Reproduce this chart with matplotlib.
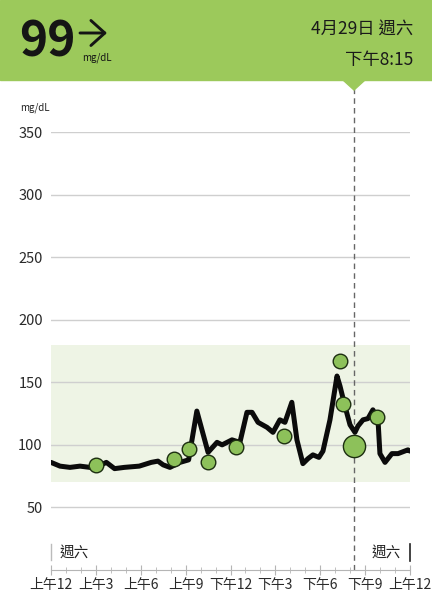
import matplotlib.pyplot as plt
from matplotlib.patches import Polygon, Rectangle

plt.rcParams['font.family'] = ['Noto Sans CJK TC', 'DejaVu Sans']

# glucose trace (hour of day, mg/dL)
trace_hours = [0.0, 0.6, 1.27, 1.94, 2.6, 3.0, 3.7, 4.25, 4.9, 5.9, 6.7, 7.15, 7.5,
               7.95, 8.62, 9.2, 9.75, 10.5, 11.1, 11.44, 12.1, 12.63, 13.1, 13.44,
               13.84, 14.44, 14.84, 15.3, 15.64, 16.1, 16.44, 16.84, 17.18, 17.51,
               17.91, 18.18, 18.65, 19.12, 19.32, 19.65, 19.99, 20.32, 20.52, 20.86,
               21.19, 21.52, 21.86, 21.99, 22.33, 22.79, 23.2, 23.86, 24.0]
trace_values = [86, 83, 82, 83, 82, 82, 86, 81, 82, 83, 86, 87, 84,
                82, 86, 88, 127, 94, 102, 100, 104, 102, 126, 126,
                118, 114, 110, 120, 118, 134, 104, 85, 89, 92,
                90, 95, 120, 155, 147, 131, 116, 110, 115, 120,
                121, 128, 120, 93, 86, 93, 93, 96, 95]

# fingerstick readings
point_hours = [3.0, 8.2, 9.2, 10.5, 12.4, 15.6, 19.3, 19.5, 21.8]
point_values = [84, 89, 97, 86, 98, 107, 167, 133, 122]

current_hour = 20.25
current_value = 99

target_low, target_high = 70, 180
y_ticks = [50, 100, 150, 200, 250, 300, 350]
x_labels = ['上午12', '上午3', '上午6', '上午9', '下午12', '下午3', '下午6', '下午9', '上午12']

W, H = 432, 614
fig = plt.figure(figsize=(W / 100, H / 100), dpi=100)

# header bar
header_col = '#9cc95b'
fig.patches.append(Rectangle((0, 1 - 80 / H), 1, 80 / H, transform=fig.transFigure,
                             color=header_col, zorder=0))
tx = 354 / W
fig.patches.append(Polygon([(tx - 11 / W, 1 - 80 / H), (tx + 11 / W, 1 - 80 / H),
                            (tx, 1 - 90 / H)], closed=True, transform=fig.transFigure,
                           color=header_col, zorder=0))

fig.text(19 / W, 1 - 42 / H, '99', fontsize=34.5, fontweight='bold', color='#151515',
         va='center', ha='left')
# trend arrow
fig.add_artist(plt.Annotation('', xy=(107 / W, 1 - 33 / H), xytext=(80 / W, 1 - 33 / H),
                              xycoords='figure fraction', textcoords='figure fraction',
                              arrowprops=dict(arrowstyle='->,head_length=0.5,head_width=0.45',
                                              lw=2.1, color='#151515', mutation_scale=20,
                                              shrinkA=0, shrinkB=0)))
fig.text(82 / W, 1 - 58 / H, 'mg/dL', fontsize=7, color='#151515', va='center', ha='left')
fig.text(413 / W, 1 - 30 / H, '4月29日 週六', fontsize=12.5, color='#1a1a1a', va='center', ha='right')
fig.text(413 / W, 1 - 60 / H, '下午8:15', fontsize=12.5, color='#1a1a1a', va='center', ha='right')

fig.text(20 / W, 1 - 108 / H, 'mg/dL', fontsize=7, color='#222222', va='center', ha='left')

ax = fig.add_axes([51 / W, 1 - 570 / H, 359 / W, 438 / H])
ax.set_xlim(0, 24)
ax.set_ylim(0, 350)

ax.axhspan(target_low, target_high, color='#eef4e5', zorder=0, lw=0)
ax.set_yticks(y_ticks)
ax.grid(axis='y', color='#cfcfcf', lw=1)
ax.set_axisbelow(True)

ax.plot(trace_hours, trace_values, color='#0b0b0b', lw=3.6, solid_joinstyle='round',
        solid_capstyle='round', zorder=3)
ax.plot(point_hours, point_values, 'o', ms=10.5, mfc='#8dc15a', mec='#1c2e10', mew=1, zorder=4)
ax.plot([current_hour], [current_value], 'o', ms=16, mfc='#8dc15a', mec='#1c2e10', mew=1, zorder=5)

ax.axvline(current_hour, ymin=0, ymax=(570 - 88) / 438, color='#666666', lw=1,
           dashes=(4, 3), clip_on=False, zorder=2)

for s in ['top', 'right', 'left']:
    ax.spines[s].set_visible(False)
ax.spines['bottom'].set_color('#b5b5b5')

ax.set_xticks(range(0, 25, 3))
ax.set_xticks(range(0, 25), minor=True)
ax.set_xticklabels(x_labels)
ax.tick_params(axis='x', which='major', direction='inout', length=7, color='#b5b5b5',
               labelsize=10, labelcolor='#2a2a2a', pad=2)
ax.tick_params(axis='x', which='minor', direction='inout', length=4, color='#b5b5b5')
ax.tick_params(axis='y', length=0, labelsize=10.5, labelcolor='#2a2a2a', pad=6)

# day markers near the axis
ax.plot([0, 0], [8, 21], color='#bbbbbb', lw=1, clip_on=False)
ax.plot([24, 24], [7, 21], color='#222222', lw=1.2, clip_on=False)
ax.text(0.6, 14, '週六', fontsize=10.5, color='#222222', va='center', ha='left')
ax.text(23.4, 14, '週六', fontsize=10.5, color='#222222', va='center', ha='right')

fig.savefig('out.png', dpi=100)
